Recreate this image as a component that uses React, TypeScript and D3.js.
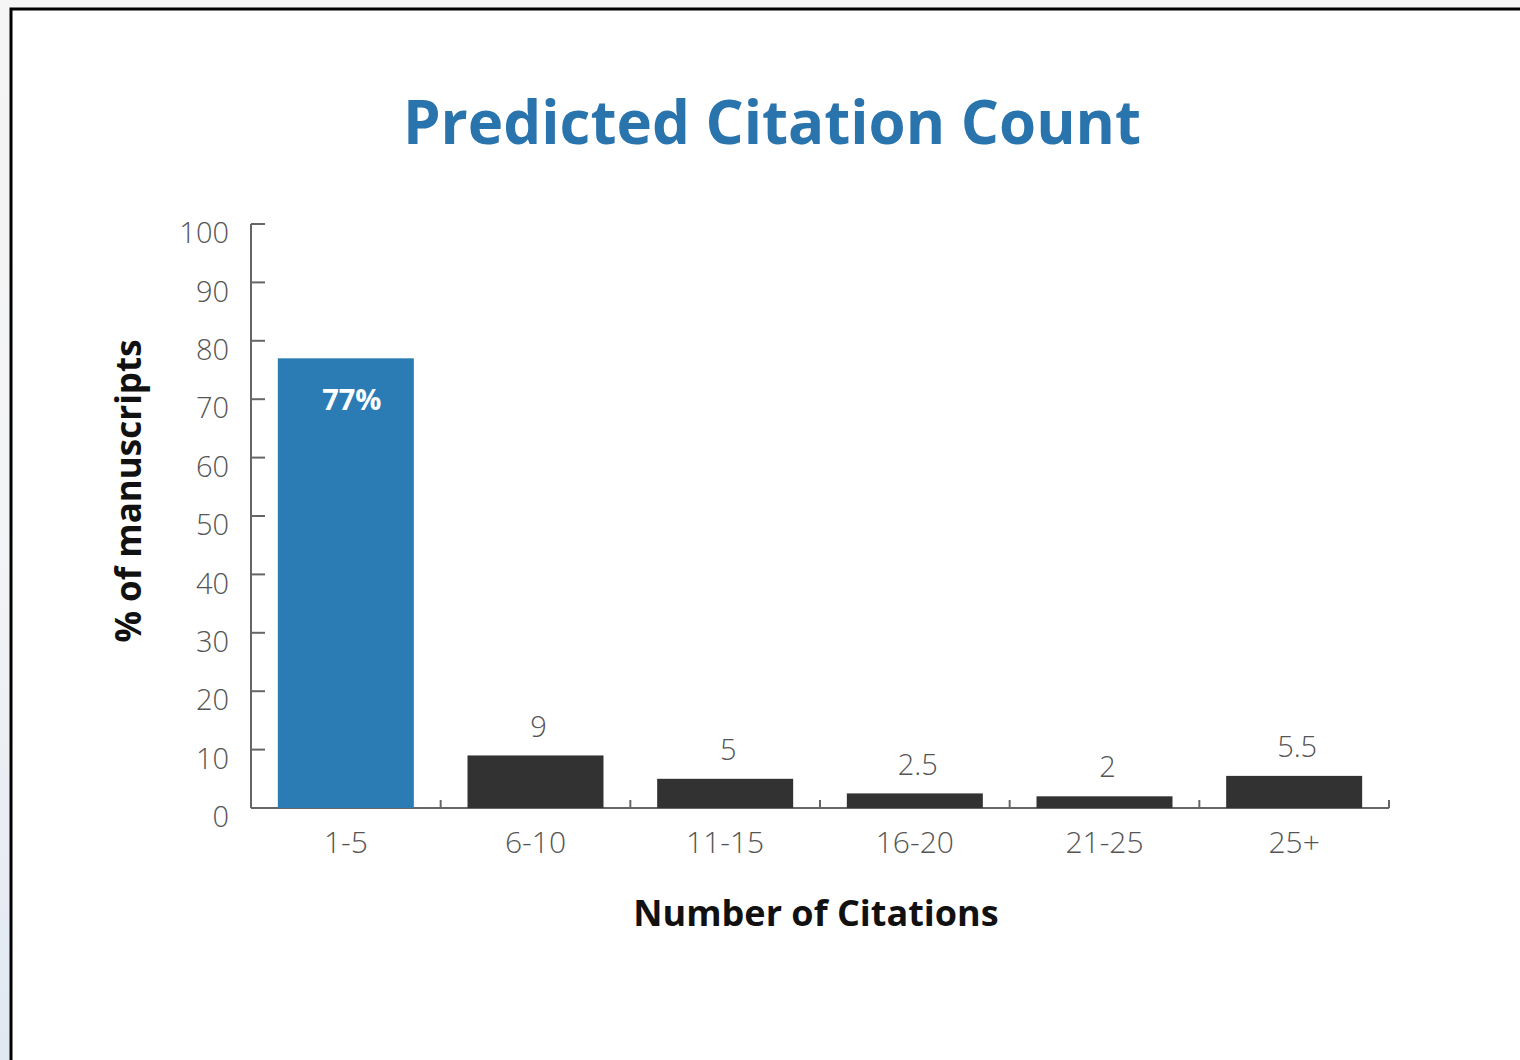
import React from "react";
import * as d3 from "d3";

const categories = ["1-5", "6-10", "11-15", "16-20", "21-25", "25+"];
const values = [77, 9, 5, 2.5, 2, 5.5];
const valueLabels = ["77%", "9", "5", "2.5", "2", "5.5"];
const yTicks = [0, 10, 20, 30, 40, 50, 60, 70, 80, 90, 100];
const title = "Predicted Citation Count";
const xTitle = "Number of Citations";
const yTitle = "% of manuscripts";

const W = 1520;
const H = 1060;
const left = 251;
const right = 1389;
const top = 224;
const bottom = 808;

export default function App() {
  const x = d3.scaleBand<string>().domain(categories).range([left, right]).paddingInner(0.283).paddingOuter(0.1415);
  const y = d3.scaleLinear().domain([0, 100]).range([bottom, top]);
  const font = "'Open Sans', sans-serif";
  const bands = categories.map((c) => x(c)! - (x.step() - x.bandwidth()) / 2);
  return (
    <svg width={W} height={H} style={{ position: "absolute", left: 0, top: 0 }} fontFamily={font}>
      <defs>
        <linearGradient id="side" x1="0" y1="0" x2="0" y2="1">
          <stop offset="0" stopColor="#f5f5f5" />
          <stop offset="0.5" stopColor="#f3f4f6" />
          <stop offset="1" stopColor="#e1e8f2" />
        </linearGradient>
      </defs>
      <rect x={0} y={0} width={W} height={H} fill="url(#side)" />
      <rect x={0} y={0} width={W} height={9} fill="#f5f5f5" />
      <rect x={11} y={9} width={W} height={H} fill="#ffffff" stroke="#000" strokeWidth={3} />
      <text x={772} y={144} textAnchor="middle" fontSize={60} fontWeight={700} fill="#2a74ad">{title}</text>
      {/* y axis */}
      <line x1={left} x2={left} y1={top} y2={bottom} stroke="#666" strokeWidth={2} />
      {yTicks.map((t) => (
        <g key={t}>
          <line x1={left} x2={left + 14} y1={y(t)} y2={y(t)} stroke="#666" strokeWidth={2} />
          <text x={229} y={y(t) + 9} dy="0.35em" textAnchor="end" fontSize={29} fontWeight={300} fill="#555">{t}</text>
        </g>
      ))}
      {/* x axis */}
      <line x1={left} x2={right} y1={bottom} y2={bottom} stroke="#666" strokeWidth={2} />
      {[...bands.slice(1), right].map((b, i) => (
        <line key={i} x1={b} x2={b} y1={bottom} y2={bottom - 8} stroke="#666" strokeWidth={2} />
      ))}
      {categories.map((c, i) => (
        <g key={c}>
          <rect x={x(c)} y={y(values[i])} width={x.bandwidth()} height={bottom - y(values[i])} fill={i === 0 ? "#2b7bb5" : "#323232"} />
          <text x={x(c)! + x.bandwidth() / 2} y={842} dy="0.35em" textAnchor="middle" fontSize={30} fontWeight={300} fill="#555">{c}</text>
          {i === 0 ? (
            <text x={x(c)! + x.bandwidth() / 2 + 6} y={y(values[i]) + 42} dy="0.35em" textAnchor="middle" fontSize={29} fontWeight={700} fill="#fff">{valueLabels[i]}</text>
          ) : (
            <text x={x(c)! + x.bandwidth() / 2 + 3} y={y(values[i]) - 29} dy="0.35em" textAnchor="middle" fontSize={29} fontWeight={300} fill="#555">{valueLabels[i]}</text>
          )}
        </g>
      ))}
      <text x={816} y={913} dy="0.35em" textAnchor="middle" fontSize={36} fontWeight={700} fill="#111">{xTitle}</text>
      <text transform={`translate(129,${491}) rotate(-90)`} dy="0.35em" textAnchor="middle" fontSize={35} fontWeight={700} fill="#111">{yTitle}</text>
    </svg>
  );
}
